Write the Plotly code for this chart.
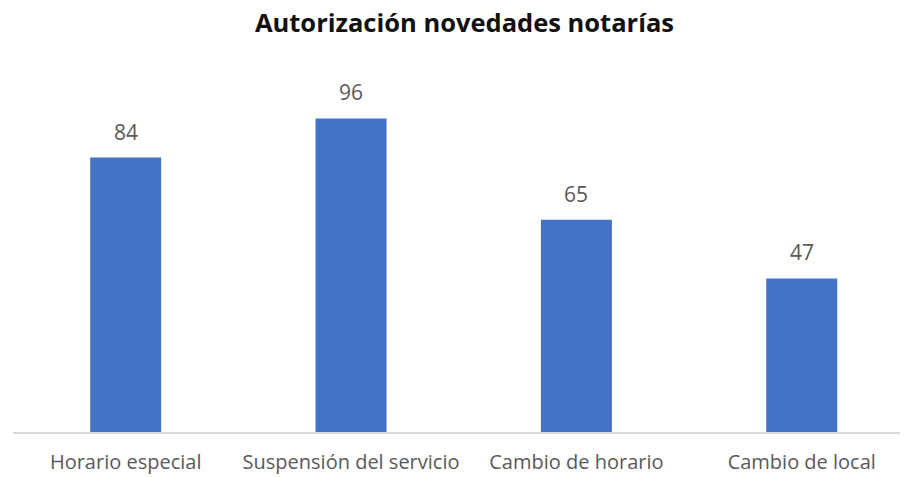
import plotly.graph_objects as go

categories = ["Horario especial", "Suspensión del servicio", "Cambio de horario", "Cambio de local"]
values = [84, 96, 65, 47]
title_text = "Autorización novedades notarías"

bar_color = "#4472C4"
label_color = "#595959"

fig = go.Figure()
fig.add_trace(go.Bar(
    x=list(range(len(categories))),
    y=values,
    width=0.315,
    marker=dict(color=bar_color, line=dict(width=0)),
    hoverinfo="skip",
))

# value labels above each bar
for i, v in enumerate(values):
    fig.add_annotation(
        x=i, y=v, text=str(v), showarrow=False,
        xref="x", yref="y", yanchor="bottom", yshift=10,
        font=dict(family="Open Sans", size=21, color=label_color),
    )

fig.update_layout(
    width=904, height=477,
    margin=dict(l=13, r=4, t=40, b=45),
    paper_bgcolor="white", plot_bgcolor="white",
    showlegend=False,
    title=dict(
        text=f"<b>{title_text}</b>",
        x=464.5 / 904, xref="container", xanchor="center",
        y=1 - 23 / 477, yref="container", yanchor="middle",
        font=dict(family="Open Sans", size=25.5, color="#111111"),
    ),
    xaxis=dict(
        range=[-0.5, 3.436],
        tickmode="array",
        tickvals=list(range(len(categories))),
        ticktext=categories,
        showgrid=False, zeroline=False,
        showline=True, linecolor="#D9D9D9", linewidth=1.5,
        ticks="", ticklabelstandoff=11,
        automargin=False,
        tickfont=dict(family="Open Sans", size=20, color=label_color),
        fixedrange=True,
    ),
    yaxis=dict(
        range=[0, 120],
        visible=False,
        showgrid=False, zeroline=False,
        automargin=False,
        fixedrange=True,
    ),
)

fig.write_html("out.html")
